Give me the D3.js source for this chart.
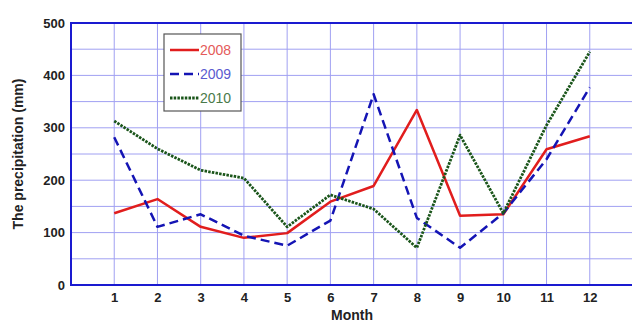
<!DOCTYPE html>
<html>
<head>
<meta charset="utf-8">
<script src="https://cdn.jsdelivr.net/npm/d3@7"></script>
<style>
  body { margin: 0; background: #fff; }
  svg { display: block; font-family: Arial, "Liberation Sans", sans-serif; }
</style>
</head>
<body>
<div id="chart"></div>
<script>
const months = [1, 2, 3, 4, 5, 6, 7, 8, 9, 10, 11, 12]
const p2008 = [137, 164, 111, 90, 99, 159, 189, 334, 132, 135, 259, 284]
const p2009 = [282, 111, 135, 94, 75, 123, 364, 128, 71, 137, 240, 377]
const p2010 = [313, 260, 219, 204, 111, 172, 145, 71, 286, 137, 305, 445]
const yTicks = [0, 100, 200, 300, 400, 500]
const yGrid = [50, 150, 250, 350, 450]

const series = [
  {name: "2008", values: p2008, color: "#e11d1d", text: "#e45a5a", dash: null, width: 2.5},
  {name: "2009", values: p2009, color: "#1414b4", text: "#5a5ad0", dash: "9,5", width: 2.5},
  {name: "2010", values: p2010, color: "#1a551a", text: "#4a7a4a", dash: "2.5,1.2", width: 2.8}
]

const width = 632, height = 323
const plotLeft = 71, plotRight = 633, plotTop = 23, plotBottom = 285

const svg = d3.select("#chart").append("svg")
  .attr("width", width)
  .attr("height", height)

const x = d3.scaleLinear().domain([0, 13]).range([plotLeft, plotRight])
const y = d3.scaleLinear().domain([0, 500]).range([plotBottom, plotTop])

// grid
const grid = svg.append("g").attr("stroke", "#a0a0f2").attr("stroke-width", 1)
grid.selectAll("line.v").data(months).enter().append("line")
  .attr("x1", d => x(d)).attr("x2", d => x(d))
  .attr("y1", plotTop).attr("y2", plotBottom)
grid.selectAll("line.h").data(yTicks.concat(yGrid)).enter().append("line")
  .attr("x1", plotLeft).attr("x2", plotRight)
  .attr("y1", d => y(d)).attr("y2", d => y(d))

// frame
svg.append("rect")
  .attr("x", plotLeft).attr("y", plotTop)
  .attr("width", plotRight - plotLeft).attr("height", plotBottom - plotTop)
  .attr("fill", "none").attr("stroke", "#1a1ad0").attr("stroke-width", 2)

// axes labels
const xAxis = svg.append("g")
  .attr("transform", `translate(0,${plotBottom})`)
  .call(d3.axisBottom(x).tickValues(months).tickSize(0).tickPadding(8))
xAxis.select(".domain").remove()
xAxis.selectAll("text").attr("font-size", 13).attr("font-weight", "bold").attr("fill", "#222")

const yAxis = svg.append("g")
  .attr("transform", `translate(${plotLeft},0)`)
  .call(d3.axisLeft(y).tickValues(yTicks).tickSize(0).tickPadding(6))
yAxis.select(".domain").remove()
yAxis.selectAll("text").attr("font-size", 13).attr("font-weight", "bold").attr("fill", "#222")

svg.append("text")
  .attr("x", 352).attr("y", 320)
  .attr("text-anchor", "middle")
  .attr("font-size", 14).attr("font-weight", "bold").attr("fill", "#222")
  .text("Month")

svg.append("text")
  .attr("transform", `translate(23,${(plotTop + plotBottom) / 2}) rotate(-90)`)
  .attr("text-anchor", "middle")
  .attr("font-size", 14).attr("font-weight", "bold").attr("fill", "#222")
  .text("The precipitation (mm)")

// lines
const line = d3.line().x((d, i) => x(months[i])).y(d => y(d))
svg.append("g").selectAll("path").data(series).enter().append("path")
  .attr("d", d => line(d.values))
  .attr("fill", "none")
  .attr("stroke", d => d.color)
  .attr("stroke-width", d => d.width)
  .attr("stroke-dasharray", d => d.dash)
  .attr("stroke-linejoin", "round")

// legend
const legend = svg.append("g").attr("transform", "translate(164,34)")
legend.append("rect")
  .attr("width", 77).attr("height", 77)
  .attr("fill", "#fff").attr("stroke", "#555").attr("stroke-width", 1.2)
const item = legend.selectAll("g").data(series).enter().append("g")
  .attr("transform", (d, i) => `translate(0,${16 + i * 24})`)
item.append("line")
  .attr("x1", 6).attr("x2", 35)
  .attr("stroke", d => d.color)
  .attr("stroke-width", d => d.width)
  .attr("stroke-dasharray", d => d.dash)
item.append("text")
  .attr("x", 36).attr("y", 5)
  .attr("font-size", 14)
  .attr("fill", d => d.text)
  .text(d => d.name)
</script>
</body>
</html>
